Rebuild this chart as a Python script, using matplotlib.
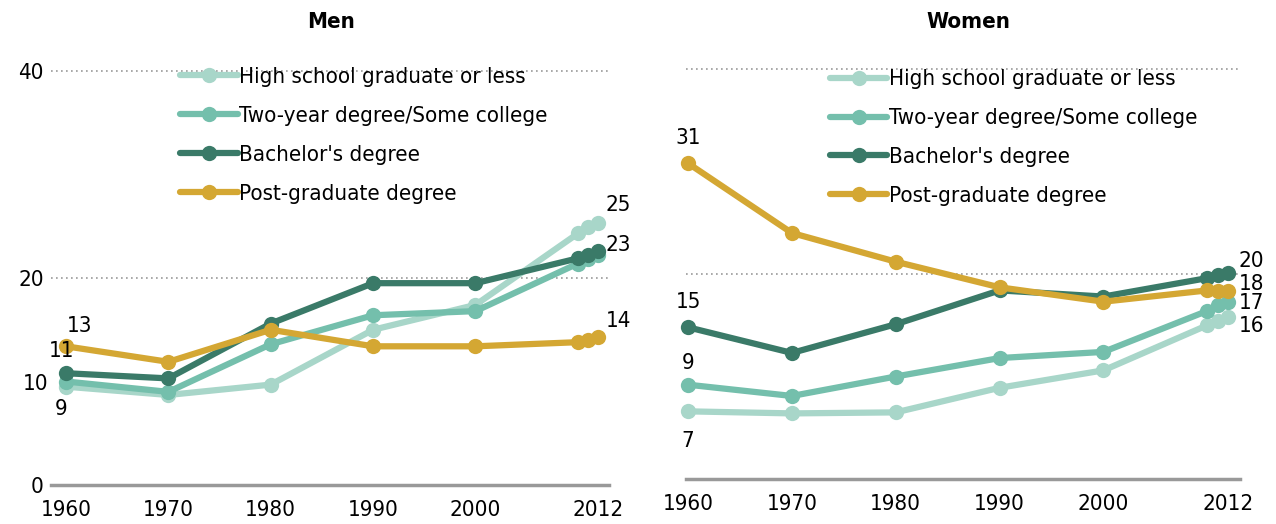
import matplotlib
matplotlib.use('Agg')
import matplotlib.pyplot as plt

plt.rcParams['font.family'] = ['DejaVu Sans']
plt.rcParams['font.stretch'] = 'condensed'

years = [1960, 1970, 1980, 1990, 2000, 2010, 2011, 2012]
tick_years = [1960, 1970, 1980, 1990, 2000, 2012]

series_names = ['High school graduate or less', 'Two-year degree/Some college',
                "Bachelor's degree", 'Post-graduate degree']
colors = ['#a8d6c9', '#74bfac', '#3a7a68', '#d4a733']

men = {
    'High school graduate or less': [9.5, 8.7, 9.7, 15.0, 17.4, 24.3, 24.9, 25.3],
    'Two-year degree/Some college': [10.0, 9.0, 13.6, 16.4, 16.8, 21.4, 21.8, 22.2],
    "Bachelor's degree": [10.8, 10.3, 15.6, 19.5, 19.5, 21.9, 22.2, 22.6],
    'Post-graduate degree': [13.4, 11.9, 15.0, 13.4, 13.4, 13.8, 14.0, 14.3],
}
women = {
    'High school graduate or less': [6.6, 6.4, 6.5, 8.9, 10.6, 15.0, 15.4, 15.8],
    'Two-year degree/Some college': [9.2, 8.1, 10.0, 11.8, 12.4, 16.4, 17.0, 17.3],
    "Bachelor's degree": [14.8, 12.3, 15.1, 18.4, 17.8, 19.6, 19.9, 20.1],
    'Post-graduate degree': [30.8, 24.0, 21.2, 18.7, 17.3, 18.4, 18.3, 18.3],
}

# label texts and pixel offsets (first point, last point)
men_first = {'High school graduate or less': ('9', -5, -22),
             'Two-year degree/Some college': ('10', -30, -2),
             "Bachelor's degree": ('11', -4, 22),
             'Post-graduate degree': ('13', 14, 20)}
men_last = {'High school graduate or less': ('25', 20, 18),
            "Bachelor's degree": ('23', 20, 6),
            'Post-graduate degree': ('14', 20, 16)}
women_first = {'High school graduate or less': ('7', 0, -30),
               'Two-year degree/Some college': ('9', 0, 22),
               "Bachelor's degree": ('15', 0, 25),
               'Post-graduate degree': ('31', 0, 25)}
women_last = {'High school graduate or less': ('16', 23, -9),
              'Two-year degree/Some college': ('17', 23, -1),
              "Bachelor's degree": ('20', 23, 12),
              'Post-graduate degree': ('18', 23, 7)}

fig = plt.figure(figsize=(12.76, 5.24), dpi=100)
W, H = 1276, 524
ax_m = fig.add_axes([50.6 / W, 39 / H, 558 / W, 42 * 10.35 / H])
ax_w = fig.add_axes([686 / W, 45 / H, 553.5 / W, 42 * 10.25 / H])

FS = 16
px = 0.72

panels = [(ax_m, men, men_first, men_last, True, (0.2155, 0.982)),
          (ax_w, women, women_first, women_last, False, (0.2435, 0.972))]

for ax, data, first, last, show_y, leg_pos in panels:
    for name, col in zip(series_names, colors):
        vals = data[name]
        ax.plot(years, vals, color=col, lw=4.5, marker='o', ms=11,
                markeredgewidth=0, label=name, solid_capstyle='round', clip_on=False)
        if name in first:
            t, dx, dy = first[name]
            ax.annotate(t, (years[0], vals[0]), xytext=(dx * px, dy * px),
                        textcoords='offset points', ha='center', va='center', fontsize=FS)
        if name in last:
            t, dx, dy = last[name]
            ax.annotate(t, (years[-1], vals[-1]), xytext=(dx * px, dy * px),
                        textcoords='offset points', ha='center', va='center', fontsize=FS)
    ax.set_ylim(0, 42)
    ax.set_yticks([0, 20, 40])
    ax.yaxis.grid(True, linestyle=(0, (1, 2)), color='#999999', lw=1.2)
    ax.set_axisbelow(True)
    ax.set_xticks(tick_years)
    ax.set_xticklabels([str(y) for y in tick_years])
    ax.tick_params(axis='x', length=0, pad=11, labelsize=FS)
    ax.tick_params(axis='y', length=0, pad=5, labelsize=FS, labelleft=show_y)
    for s in ['top', 'right', 'left']:
        ax.spines[s].set_visible(False)
    ax.spines['bottom'].set_color('#999999')
    ax.spines['bottom'].set_linewidth(2.5)
    ax.spines['bottom'].set_zorder(5)
    ax.legend(loc='upper left', bbox_to_anchor=leg_pos, frameon=False,
              fontsize=FS, handlelength=2.6, handletextpad=0.05,
              labelspacing=0.85, borderaxespad=0)

ax_m.set_xlim(1958.5, 2013.0)
ax_w.set_xlim(1959.8, 2013.1)

fig.text(331 / W, 1 - 22 / H, 'Men', ha='center', va='center',
         fontsize=FS, fontweight='bold')
fig.text(968 / W, 1 - 22 / H, 'Women', ha='center', va='center',
         fontsize=FS, fontweight='bold')

fig.savefig('out.png', dpi=100)
